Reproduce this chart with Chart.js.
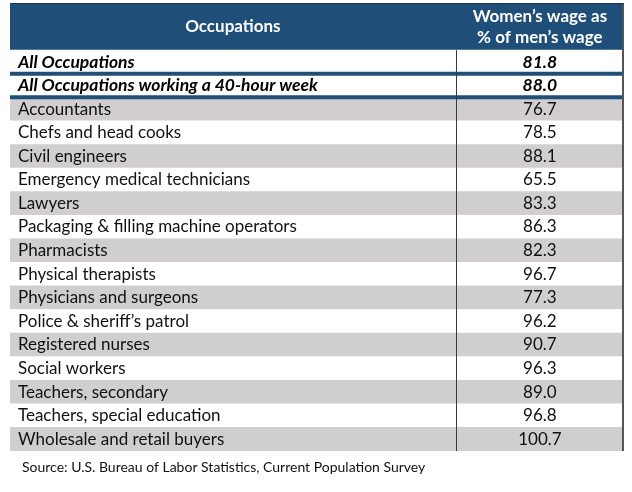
<!DOCTYPE html>
<html>
<head>
<meta charset="utf-8">
<script src="https://cdn.jsdelivr.net/npm/chart.js@4.4.1/dist/chart.umd.min.js"></script>
<style>
    html, body { margin: 0; padding: 0; background: #ffffff; }
    #wrap { width: 632px; height: 492px; }
</style>
</head>
<body>
<div id="wrap"><canvas id="tabla"></canvas></div>
<script>
// header texts
const headerLeft = 'Occupations';
const headerRight = ['Women’s wage as', '% of men’s wage'];

// summary rows
const summaryLabels = ['All Occupations', 'All Occupations working a 40-hour week'];
const summaryRatio = [81.8, 88.0];

// occupation rows
const occupations = [
    'Accountants',
    'Chefs and head cooks',
    'Civil engineers',
    'Emergency medical technicians',
    'Lawyers',
    'Packaging & filling machine operators',
    'Pharmacists',
    'Physical therapists',
    'Physicians and surgeons',
    'Police & sheriff’s patrol',
    'Registered nurses',
    'Social workers',
    'Teachers, secondary',
    'Teachers, special education',
    'Wholesale and retail buyers'
];
const wageRatio = [76.7, 78.5, 88.1, 65.5, 83.3, 86.3, 82.3, 96.7, 77.3, 96.2, 90.7, 96.3, 89.0, 96.8, 100.7];

const sourceNote = 'Source: U.S. Bureau of Labor Statistics, Current Population Survey';

const BLUE = '#1F4E79';
const GRAY = '#D0CECE';
const FONT = 'Lato, "Open Sans", sans-serif';
const SPLIT = 72.6; // column divider on the x scale (0..100)

const rowKeys = headerRight.concat(summaryLabels, occupations);
const nHeader = headerRight.length;
const nSummary = summaryLabels.length;

const rowColors = rowKeys.map(function (k, i) {
    if (i < nHeader) return BLUE;
    if (i < nHeader + nSummary) return '#ffffff';
    return ((i - nHeader - nSummary) % 2 === 0) ? GRAY : '#ffffff';
});

const tablePlugin = {
    id: 'tablePlugin',
    afterDatasetsDraw: function (chart) {
        const ctx = chart.ctx;
        const x = chart.scales.x;
        const y = chart.scales.y;
        const area = chart.chartArea;
        const h = y.getPixelForValue(1) - y.getPixelForValue(0);
        const rowBottom = function (i) { return y.getPixelForValue(i) + h / 2; };
        const leftX = x.getPixelForValue(1.3);
        const midX = (x.getPixelForValue(SPLIT) + x.getPixelForValue(100)) / 2;

        ctx.save();
        ctx.textBaseline = 'middle';

        // header
        ctx.fillStyle = '#ffffff';
        ctx.font = 'bold 17px ' + FONT;
        ctx.textAlign = 'center';
        ctx.fillText(headerLeft, (x.getPixelForValue(0) + x.getPixelForValue(SPLIT)) / 2, rowBottom(0));
        ctx.fillText(headerRight[0], midX, y.getPixelForValue(0) + 2);
        ctx.fillText(headerRight[1], midX, y.getPixelForValue(1) - 1);

        // summary rows
        ctx.fillStyle = '#000000';
        ctx.font = 'italic bold 17.5px ' + FONT;
        summaryLabels.forEach(function (t, i) {
            const cy = y.getPixelForValue(nHeader + i);
            ctx.textAlign = 'left';
            ctx.fillText(t, leftX, cy);
            ctx.textAlign = 'center';
            ctx.fillText(summaryRatio[i].toFixed(1), midX, cy);
        });

        // occupation rows
        ctx.font = '17px ' + FONT;
        ctx.fillStyle = '#111111';
        occupations.forEach(function (t, i) {
            const cy = y.getPixelForValue(nHeader + nSummary + i);
            ctx.textAlign = 'left';
            ctx.fillText(t, leftX, cy);
            ctx.textAlign = 'center';
            ctx.fillText(wageRatio[i].toFixed(1), midX, cy);
        });

        // thick blue rules under the summary rows
        ctx.strokeStyle = BLUE;
        ctx.lineWidth = 4;
        for (let i = 0; i < nSummary; i++) {
            const yy = rowBottom(nHeader + i);
            ctx.beginPath();
            ctx.moveTo(area.left, yy);
            ctx.lineTo(area.right, yy);
            ctx.stroke();
        }

        // column divider
        const dx = Math.round(x.getPixelForValue(SPLIT)) + 0.5;
        ctx.strokeStyle = '#3a3a3a';
        ctx.lineWidth = 1;
        ctx.beginPath();
        ctx.moveTo(dx, rowBottom(nHeader - 1));
        ctx.lineTo(dx, area.bottom);
        ctx.stroke();

        // right border and top edge
        ctx.strokeStyle = '#555555';
        ctx.lineWidth = 2;
        ctx.beginPath();
        ctx.moveTo(area.right - 1, area.top);
        ctx.lineTo(area.right - 1, area.bottom);
        ctx.stroke();
        ctx.strokeStyle = '#17385a';
        ctx.lineWidth = 1;
        ctx.beginPath();
        ctx.moveTo(area.left, area.top + 0.5);
        ctx.lineTo(area.right, area.top + 0.5);
        ctx.stroke();

        // source note
        ctx.fillStyle = '#111111';
        ctx.font = '14px ' + FONT;
        ctx.textAlign = 'left';
        ctx.fillText(sourceNote, area.left + 12, area.bottom + 16);

        ctx.restore();
    }
};

new Chart(document.getElementById('tabla').getContext('2d'), {
    type: 'bar',
    data: {
        labels: rowKeys,
        datasets: [{
            label: 'rows',
            data: rowKeys.map(function () { return [0, 100]; }),
            backgroundColor: rowColors,
            borderWidth: 0,
            barPercentage: 1,
            categoryPercentage: 1
        }]
    },
    options: {
        indexAxis: 'y',
        responsive: true,
        maintainAspectRatio: false,
        animation: false,
        events: [],
        layout: { padding: { left: 10, right: 8, top: 3, bottom: 41 } },
        scales: {
            x: { type: 'linear', min: 0, max: 100, display: false },
            y: { type: 'category', display: false }
        },
        plugins: {
            legend: { display: false },
            tooltip: { enabled: false }
        }
    },
    plugins: [tablePlugin]
});
</script>
</body>
</html>
